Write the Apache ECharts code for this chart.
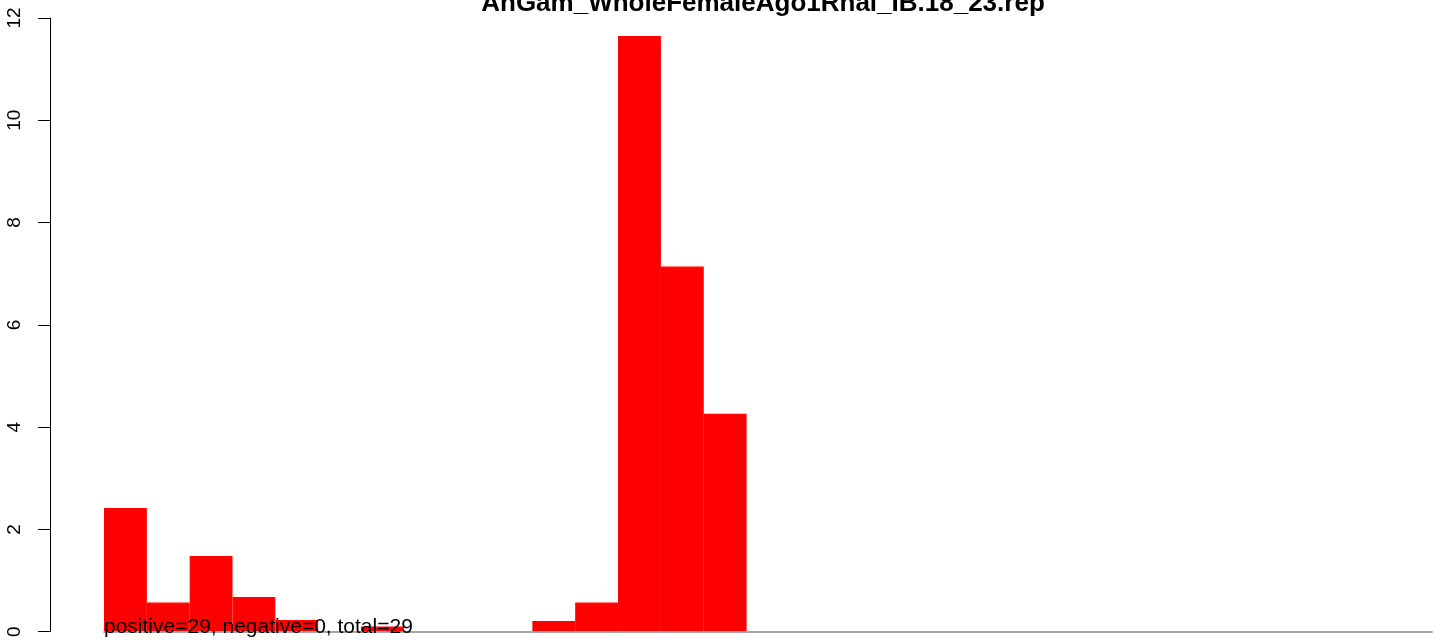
<!DOCTYPE html>
<html>
<head>
<meta charset="utf-8">
<script src="https://cdn.jsdelivr.net/npm/echarts@6/dist/echarts.min.js"></script>
<style>
  html, body { margin: 0; padding: 0; background: #fff; }
  #chart { width: 1444px; height: 640px; }
</style>
</head>
<body>
<div id="chart"></div>
<script>
// Histogram bins (31 equal-width bins) and their heights
const binLabels = ['1','2','3','4','5','6','7','8','9','10','11','12','13','14','15','16',
  '17','18','19','20','21','22','23','24','25','26','27','28','29','30','31'];
const binHeights = [2.42, 0.57, 1.48, 0.68, 0.23, 0, 0.1, 0, 0, 0, 0.21, 0.57, 11.65, 7.14, 4.26,
  0, 0, 0, 0, 0, 0, 0, 0, 0, 0, 0, 0, 0, 0, 0, 0];
const yTicks = [0, 2, 4, 6, 8, 10, 12];
const chartTitle = 'AnGam_WholeFemaleAgo1Rnai_IB.18_23.rep';
const countsText = 'positive=29, negative=0, total=29';

const chart = echarts.init(document.getElementById('chart'), null, { renderer: 'canvas' });

chart.setOption({
  animation: false,
  backgroundColor: '#ffffff',
  grid: { left: 104, right: 12, top: 18, bottom: 7, containLabel: false },
  xAxis: {
    type: 'category',
    data: binLabels,
    boundaryGap: true,
    z: 5,
    axisLine: { show: true, lineStyle: { color: '#a6a6a6', width: 2 } },
    axisTick: { show: false },
    axisLabel: { show: false },
    splitLine: { show: false }
  },
  yAxis: {
    type: 'value',
    min: yTicks[0],
    max: yTicks[yTicks.length - 1],
    interval: 2,
    offset: 54,
    axisLine: { show: true, lineStyle: { color: '#000', width: 1 } },
    axisTick: { show: true, length: 12, inside: false, lineStyle: { color: '#000', width: 1 } },
    axisLabel: {
      show: true, rotate: 90, margin: 26,
      color: '#000', fontSize: 19, fontFamily: 'Liberation Sans, Arial, sans-serif'
    },
    splitLine: { show: false }
  },
  series: [{
    type: 'bar',
    // empty bins are left undrawn
    data: binHeights.map(v => (v === 0 ? '-' : v)),
    barWidth: '100%',
    barCategoryGap: '0%',
    itemStyle: { color: '#ff0000', borderColor: '#ff0000', borderWidth: 1.2 },
    z: 1
  }],
  graphic: [
    {
      type: 'text',
      z: 10,
      style: {
        text: chartTitle,
        x: 763, y: 17,
        align: 'center', verticalAlign: 'bottom',
        font: 'bold 26px "Liberation Sans", Arial, sans-serif',
        fill: '#000'
      }
    },
    {
      type: 'text',
      z: 10,
      style: {
        text: countsText,
        x: 104, y: 638,
        align: 'left', verticalAlign: 'bottom',
        font: '21px "Liberation Sans", Arial, sans-serif',
        fill: '#000'
      }
    }
  ]
});
</script>
</body>
</html>
